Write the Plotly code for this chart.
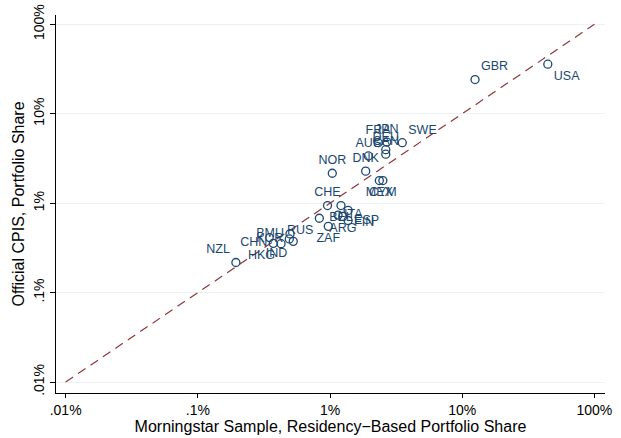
import plotly.graph_objects as go

# Portfolio shares (%) by destination country
countries = ["USA", "GBR", "SWE", "JPN", "FRA", "DEU", "CAN", "AUS", "DNK", "NOR",
             "MEX", "CYM", "CHE", "BEL", "FIN", "ARG", "ITA", "ESP", "RUS", "ZAF",
             "BMU", "KOR", "IND", "HKG", "CHN", "NZL"]
morningstar_share = [44.4, 12.5, 3.52, 2.69, 2.31, 2.64, 2.64, 1.95, 1.86, 1.04,
                     2.36, 2.51, 0.957, 1.21, 1.37, 1.25, 1.15, 1.37, 0.83, 0.97,
                     0.498, 0.492, 0.527, 0.426, 0.372, 0.194]
cpis_share = [35.8, 24.1, 4.74, 4.82, 4.74, 3.96, 3.53, 3.37, 2.28, 2.16,
              1.79, 1.79, 0.94, 0.94, 0.83, 0.71, 0.735, 0.64, 0.678, 0.55,
              0.453, 0.398, 0.374, 0.352, 0.355, 0.217]

# 45-degree reference line
diag = [0.01, 100]

tick_vals = [0.01, 0.1, 1, 10, 100]
tick_text = [".01%", ".1%", "1%", "10%", "100%"]

# label placement around each marker
label_pos = {
    "USA": "bottom right", "GBR": "top right", "SWE": "top right",
    "JPN": "top center", "FRA": "top center", "DEU": "top center",
    "CAN": "top center", "AUS": "top center", "DNK": "top center",
    "NOR": "top center", "MEX": "bottom center", "CYM": "bottom center",
    "CHE": "top center", "BEL": "bottom center", "FIN": "bottom right",
    "ARG": "bottom center", "ITA": "middle right", "ESP": "middle right",
    "RUS": "bottom left", "ZAF": "bottom center", "BMU": "middle left",
    "KOR": "middle left", "IND": "bottom left", "HKG": "bottom left",
    "CHN": "middle left", "NZL": "top left",
}

NAVY = "#1a476f"
FONT = "Liberation Sans, Arial, sans-serif"

fig = go.Figure()

fig.add_trace(go.Scatter(
    x=diag, y=diag, mode="lines",
    line=dict(color="#90353b", width=1.2, dash="9px,6px"),
    hoverinfo="skip", showlegend=False,
))

fig.add_trace(go.Scatter(
    x=morningstar_share, y=cpis_share, mode="markers+text",
    text=countries,
    textposition=[label_pos[c] for c in countries],
    textfont=dict(family=FONT, size=12.5, color=NAVY),
    marker=dict(symbol="circle-open", size=8, color=NAVY, line=dict(width=1.3, color=NAVY)),
    showlegend=False,
))

fig.update_layout(
    width=621, height=438,
    margin=dict(l=56, r=16, t=15, b=45),
    paper_bgcolor="white", plot_bgcolor="white",
    font=dict(family=FONT, size=12, color="black"),
)

fig.update_xaxes(
    type="log", range=[-2.073, 2.08], automargin=False,
    tickvals=tick_vals, ticktext=tick_text,
    ticks="outside", ticklen=4, tickcolor="black", tickwidth=1,
    showline=True, linecolor="black", linewidth=1,
    showgrid=False, zeroline=False,
    tickfont=dict(family=FONT, size=14, color="black"),
    title=dict(text="Morningstar Sample, Residency\u2212Based Portfolio Share",
               font=dict(family=FONT, size=16, color="black"), standoff=0),
)

fig.update_yaxes(
    type="log", range=[-2.123, 2.104], automargin=False,
    tickvals=tick_vals, ticktext=tick_text, tickangle=-90,
    ticks="outside", ticklen=5, tickcolor="black", tickwidth=1,
    showline=True, linecolor="black", linewidth=1,
    showgrid=True, gridcolor="#eaf2f3", gridwidth=1, zeroline=False,
    tickfont=dict(family=FONT, size=14, color="black"),
    title=dict(text="Official CPIS, Portfolio Share",
               font=dict(family=FONT, size=16, color="black"), standoff=2),
)

fig.write_html("out.html")
